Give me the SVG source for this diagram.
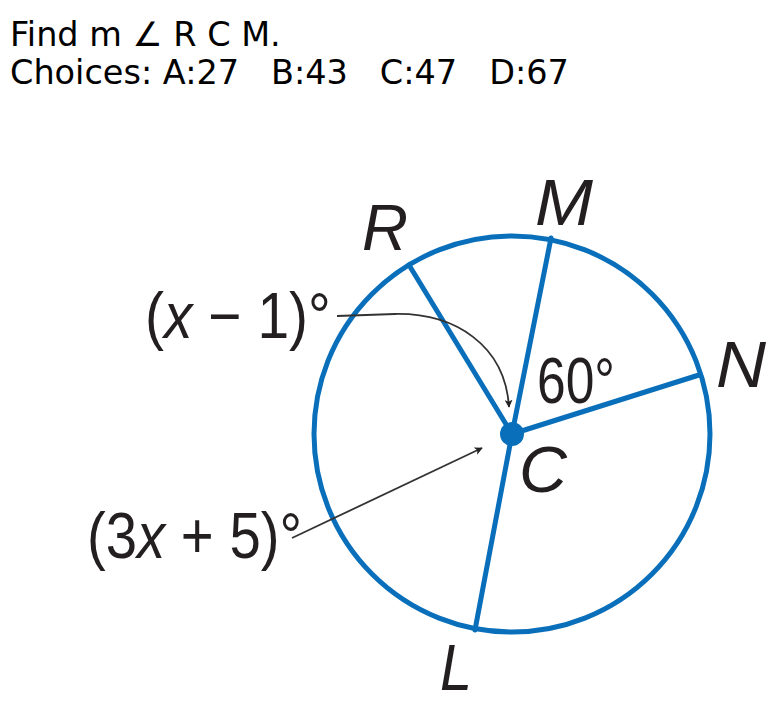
<svg xmlns="http://www.w3.org/2000/svg" width="778" height="704" viewBox="0 0 778 704">
<style>
.q{font-family:"DejaVu Sans",sans-serif;font-size:33.5px;fill:#000;white-space:pre}
.lbl{font-family:"Liberation Sans",Arial,sans-serif;font-size:64px;fill:#231f20}
.it{font-style:italic}
.seg{stroke:#0a6fba;stroke-width:5;fill:none;stroke-linecap:round}
.ptr{stroke:#333;stroke-width:1.8;fill:none}
</style>
<defs>
<marker id="ah" viewBox="0 0 10 10" refX="9" refY="5" markerWidth="8" markerHeight="8" orient="auto" markerUnits="userSpaceOnUse">
<path d="M0,0 L10,5 L0,10 L2.5,5 Z" fill="#222"/>
</marker>
</defs>
<rect width="778" height="704" fill="#fff"/>
<text class="q" x="10" y="46">Find m ∠ R C M.</text>
<text class="q" x="10" y="84" xml:space="preserve">Choices: A:27   B:43   C:47   D:67</text>
<g id="circle"><circle cx="512" cy="434" r="198" class="seg"/></g>
<g id="connectors">
<line class="seg" x1="512" y1="434" x2="409" y2="265"/>
<line class="seg" x1="512" y1="434" x2="551" y2="238"/>
<line class="seg" x1="512" y1="434" x2="699" y2="375"/>
<line class="seg" x1="512" y1="434" x2="475" y2="630"/>
<path class="ptr" d="M337,316 L395,314 C455,313 505,345 509,407" marker-end="url(#ah)"/>
<line class="ptr" x1="292" y1="538" x2="482" y2="448" marker-end="url(#ah)"/>
</g>
<g id="C"><circle cx="512" cy="434" r="12" fill="#0a6fba"/><text class="lbl it" x="519" y="492" textLength="48" lengthAdjust="spacingAndGlyphs">C</text></g>
<g id="R"><text class="lbl it" x="362" y="250" textLength="46" lengthAdjust="spacingAndGlyphs">R</text></g>
<g id="M"><text class="lbl it" x="535" y="225" textLength="58" lengthAdjust="spacingAndGlyphs">M</text></g>
<g id="N"><text class="lbl it" x="716" y="387" textLength="50" lengthAdjust="spacingAndGlyphs">N</text></g>
<g id="L"><text class="lbl it" x="440" y="690" textLength="32" lengthAdjust="spacingAndGlyphs">L</text></g>
<g id="angle60"><text class="lbl" x="537" y="403" textLength="78" lengthAdjust="spacingAndGlyphs">60°</text></g>
<g id="labelRCM" transform="translate(145,338) scale(0.89,1)"><text class="lbl" x="0" y="0">(<tspan class="it">x</tspan> − 1)°</text></g>
<g id="labelRCL" transform="translate(87,558) scale(0.88,1)"><text class="lbl" x="0" y="0">(3<tspan class="it">x</tspan> + 5)°</text></g>
</svg>
